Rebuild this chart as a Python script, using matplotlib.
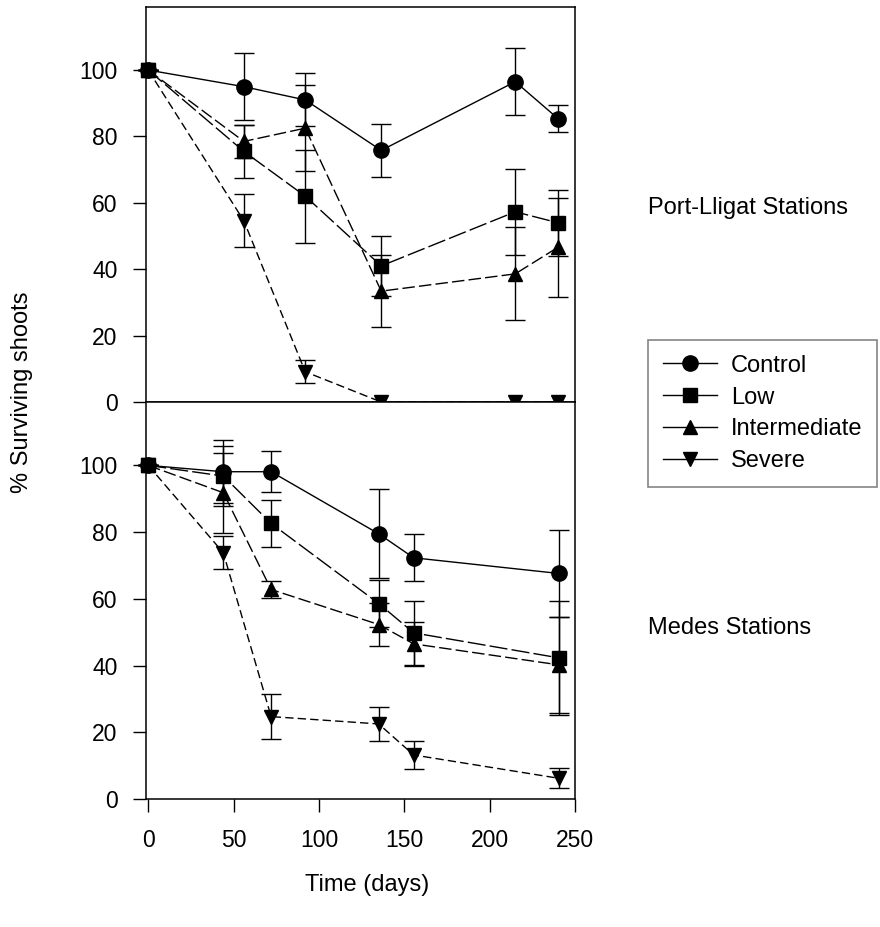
import matplotlib
matplotlib.use('Agg')
import matplotlib.pyplot as plt
from matplotlib.lines import Line2D

plt.rcParams['font.family'] = ['Liberation Sans', 'DejaVu Sans']

# Port-Lligat stations
pl_days = [0, 56, 92, 136.5, 215, 240]
pl_control = [100, 95, 91, 75.8, 96.5, 85.4]
pl_control_err = [0, 10, 8, 8, 10, 4]
pl_low = [100, 75.5, 62, 41, 57.3, 54]
pl_low_err = [0, 8, 14, 9, 13, 10]
pl_inter = [100, 78.5, 82.5, 33.4, 38.6, 46.6]
pl_inter_err = [0, 5, 13, 10.8, 14, 15]
pl_severe = [100, 54.6, 9.1, 0, 0, 0]
pl_severe_err = [0, 8, 3.5, 0, 0, 0]

# Medes stations
md_days = [0, 44, 72, 135, 155.5, 240.6]
md_control = [100, 98.1, 98.1, 79.5, 72.3, 67.6]
md_control_err = [0, 9.5, 6.2, 13.3, 7, 13]
md_low = [100, 96.8, 82.6, 58.6, 49.8, 42.3]
md_low_err = [0, 9, 7, 7, 9.5, 17]
md_inter = [100, 91.8, 62.8, 52.3, 46.5, 40.2]
md_inter_err = [0, 12, 2.5, 6.4, 6.5, 14.5]
md_severe = [100, 73.8, 24.7, 22.5, 13.2, 6.2]
md_severe_err = [0, 5, 6.8, 5, 4.3, 3]

labels = ['Control', 'Low', 'Intermediate', 'Severe']
markers = ['o', 's', '^', 'v']
msizes = [11, 9.5, 10.5, 10.5]
styles = ['-', (0, (13, 3)), (0, (9, 3)), (0, (6, 3))]

fig = plt.figure(figsize=(8.8, 9.27), dpi=100)
ax_top = fig.add_axes([146 / 880, 1 - 402 / 927, 429 / 880, 395 / 927])
ax_bot = fig.add_axes([146 / 880, 1 - 799 / 927, 429 / 880, 397 / 927])

top_series = [(pl_control, pl_control_err), (pl_low, pl_low_err),
              (pl_inter, pl_inter_err), (pl_severe, pl_severe_err)]
bot_series = [(md_control, md_control_err), (md_low, md_low_err),
              (md_inter, md_inter_err), (md_severe, md_severe_err)]

for ax, days, series in [(ax_top, pl_days, top_series), (ax_bot, md_days, bot_series)]:
    for i, (vals, errs) in enumerate(series):
        ax.errorbar(days, vals, yerr=errs, fmt='none', ecolor='black',
                    elinewidth=1, capsize=7, capthick=1, clip_on=False)
        ax.plot(days, vals, color='black', linestyle=styles[i], linewidth=1,
                marker=markers[i], markersize=msizes[i], clip_on=False, zorder=3)
    ax.set_xlim(-1.3, 250)
    ax.set_ylim(0, 119)
    ax.set_yticks([0, 20, 40, 60, 80, 100])
    ax.tick_params(direction='out', length=9.5, width=1, labelsize=16.5)
    ax.tick_params(axis='y', pad=11)
    ax.tick_params(axis='x', pad=12)
    for s in ax.spines.values():
        s.set_linewidth(1.1)

ax_top.set_xticks([0, 50, 100, 150, 200, 250])
ax_top.tick_params(axis='x', bottom=False, labelbottom=False)
ax_bot.set_xticks([0, 50, 100, 150, 200, 250])

fig.text(22 / 880, 1 - 392 / 927, '% Surviving shoots', rotation=90,
         ha='center', va='center', fontsize=17)
fig.text(367 / 880, 1 - 885 / 927, 'Time (days)', ha='center', va='center', fontsize=17)
fig.text(648 / 880, 1 - 208 / 927, 'Port-Lligat Stations', ha='left', va='center', fontsize=17)
fig.text(648 / 880, 1 - 628 / 927, 'Medes Stations', ha='left', va='center', fontsize=17)

handles = [Line2D([], [], color='black', linewidth=1, marker=markers[i],
                  markersize=msizes[i]) for i in range(4)]
leg = fig.legend(handles, labels, loc='upper left',
                 bbox_to_anchor=(648 / 880, 1 - 340 / 927), fontsize=17,
                 frameon=True, fancybox=False, handlelength=2.3,
                 handletextpad=0.6, labelspacing=0.42, borderpad=0.62,
                 borderaxespad=0)
leg.get_frame().set_edgecolor('#666666')
leg.get_frame().set_linewidth(1.2)

plt.savefig('out.png', dpi=100)
